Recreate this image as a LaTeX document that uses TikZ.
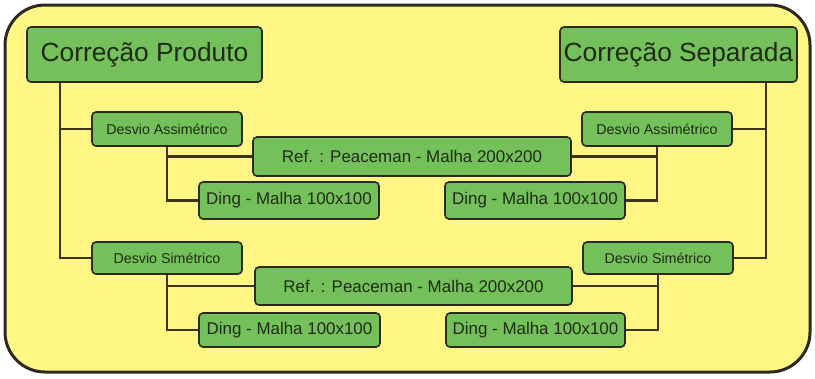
\documentclass[tikz,border=0pt]{standalone}
\usepackage{fontspec}
\setmainfont{Liberation Sans}
\definecolor{panel}{HTML}{FFF684}
\definecolor{boxfill}{HTML}{74C05A}
\definecolor{edge}{HTML}{2B2A1C}
\definecolor{wire}{HTML}{3D3318}
\definecolor{ink}{HTML}{1F2B14}
\begin{document}
\begin{tikzpicture}[x=1bp,y=-1bp,
  box/.style={draw=edge, fill=boxfill, rounded corners=4bp, line width=1.6bp,
              inner sep=0pt, text=ink},
  bigbox/.style={box, minimum height=55bp, font=\fontsize{26.4}{30}\selectfont},
  midbox/.style={box, font=\fontsize{17}{20}\selectfont},
  smallbox/.style={box, minimum width=150bp, font=\fontsize{14.3}{17}\selectfont},
  wirestyle/.style={draw=wire, line width=2.2bp}]
\useasboundingbox (0,0) rectangle (815,378);
% background panel
\draw[draw=edge, fill=panel, line width=3bp, rounded corners=40bp] (5,5) rectangle (810,372);

% top level
\node[bigbox, minimum width=235bp] (prod) at (144.5,54.5) {Correção Produto};
\node[bigbox, minimum width=237bp] (sep) at (678.5,54.5) {Correção Separada};

% asymmetric group
\node[smallbox, minimum height=34bp] (daL) at (167,129) {Desvio Assimétrico};
\node[smallbox, minimum height=34bp] (daR) at (657,129) {Desvio Assimétrico};
\node[midbox, minimum width=318bp, minimum height=39bp] (refA) at (412,156.5) {Ref. : Peaceman - Malha 200x200};
\node[midbox, minimum width=180bp, minimum height=37bp] (dingAL) at (289,200.5) {Ding - Malha 100x100};
\node[midbox, minimum width=180bp, minimum height=37bp] (dingAR) at (535,200.5) {Ding - Malha 100x100};

% symmetric group
\node[smallbox, minimum height=32bp] (dsL) at (167,258) {Desvio Simétrico};
\node[smallbox, minimum height=32bp] (dsR) at (658,258) {Desvio Simétrico};
\node[midbox, minimum width=317bp, minimum height=38bp] (refB) at (413.5,286) {Ref. : Peaceman - Malha 200x200};
\node[midbox, minimum width=181bp, minimum height=34bp] (dingBL) at (289.5,330) {Ding - Malha 100x100};
\node[midbox, minimum width=179bp, minimum height=34bp] (dingBR) at (535.5,330) {Ding - Malha 100x100};

% trunk positions
\coordinate (tL) at (60,0);
\coordinate (tR) at (766,0);

\begin{scope}[on background layer/.try]
\end{scope}

% connectors
\draw[wirestyle] (prod.south -| tL) |- (dsL.west);
\draw[wirestyle] (prod.south -| tL) |- (daL.west);
\draw[wirestyle] (sep.south -| tR) |- (dsR.east);
\draw[wirestyle] (sep.south -| tR) |- (daR.east);

\draw[wirestyle] (daL.south) |- (dingAL.west);
\draw[wirestyle] (daL.south) |- (refA.west);
\draw[wirestyle] (daR.south) |- (dingAR.east);
\draw[wirestyle] (daR.south) |- (refA.east);

\draw[wirestyle] (dsL.south) |- (dingBL.west);
\draw[wirestyle] (dsL.south) |- (refB.west);
\draw[wirestyle] (dsR.south) |- (dingBR.east);
\draw[wirestyle] (dsR.south) |- (refB.east);
\end{tikzpicture}
\end{document}
